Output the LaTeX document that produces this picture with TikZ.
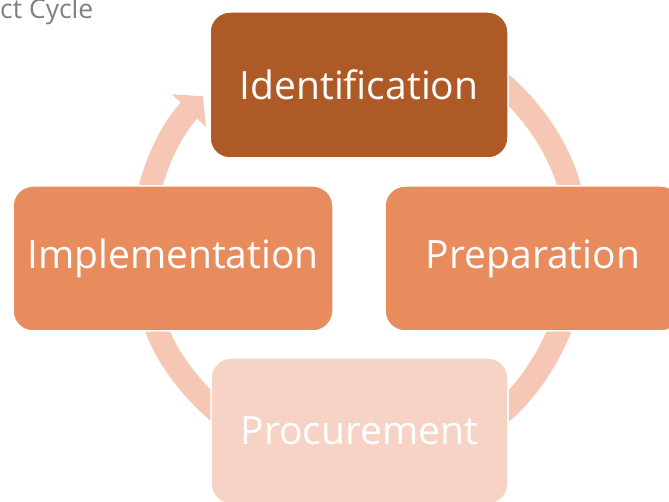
\documentclass[tikz,border=0pt]{standalone}
\usepackage{fontspec}
\setmainfont{Open Sans}
\usetikzlibrary{arrows.meta,positioning}
\definecolor{darkrust}{HTML}{AE5A26}
\definecolor{midorange}{HTML}{E88C5E}
\definecolor{palepink}{HTML}{F7D3C6}
\definecolor{ringpink}{HTML}{F6C7B4}
\definecolor{titlegray}{HTML}{808080}
\tikzset{%
	stagebox/.style = {draw=white, line width=1.5pt, rectangle, rounded corners=20pt, text=white, text centered, inner sep=0pt, font=\fontsize{39}{46}\selectfont},
	cyclearc/.style = {draw=ringpink, line width=23pt, -{Triangle[width=46pt,length=20pt]}},
}
\begin{document}
\begin{tikzpicture}[x=1pt,y=1pt]
	\useasboundingbox (0,0) rectangle (669,502);
	\coordinate (hub) at (359,255);
	% ring segments between the stages
	\draw[cyclearc] (hub) ++(175:217) arc[start angle=175, end angle=136, radius=217];
	\draw[cyclearc] (hub) ++(55:217) arc[start angle=55, end angle=5, radius=217];
	\draw[cyclearc] (hub) ++(-15:217) arc[start angle=-15, end angle=-60, radius=217];
	\draw[cyclearc] (hub) ++(-125:217) arc[start angle=-125, end angle=-165, radius=217];
	% stages
	\node[stagebox, fill=darkrust, minimum width=298pt, minimum height=146pt] (ident) at (359,417) {Identification};
	\node[stagebox, fill=midorange, minimum width=320pt, minimum height=145pt] (impl) at (173,243.5) {Implementation};
	\node[stagebox, fill=midorange, minimum width=296pt, minimum height=145pt] (prep) at (533,243.5) {Preparation};
	\node[stagebox, fill=palepink, minimum width=297pt, minimum height=146pt] (proc) at (359.5,71) {Procurement};
	\node[anchor=base west, inner sep=0pt, text=titlegray, font=\fontsize{26.5}{30}\selectfont] (title) at (0,483) {ct Cycle};
\end{tikzpicture}
\end{document}
